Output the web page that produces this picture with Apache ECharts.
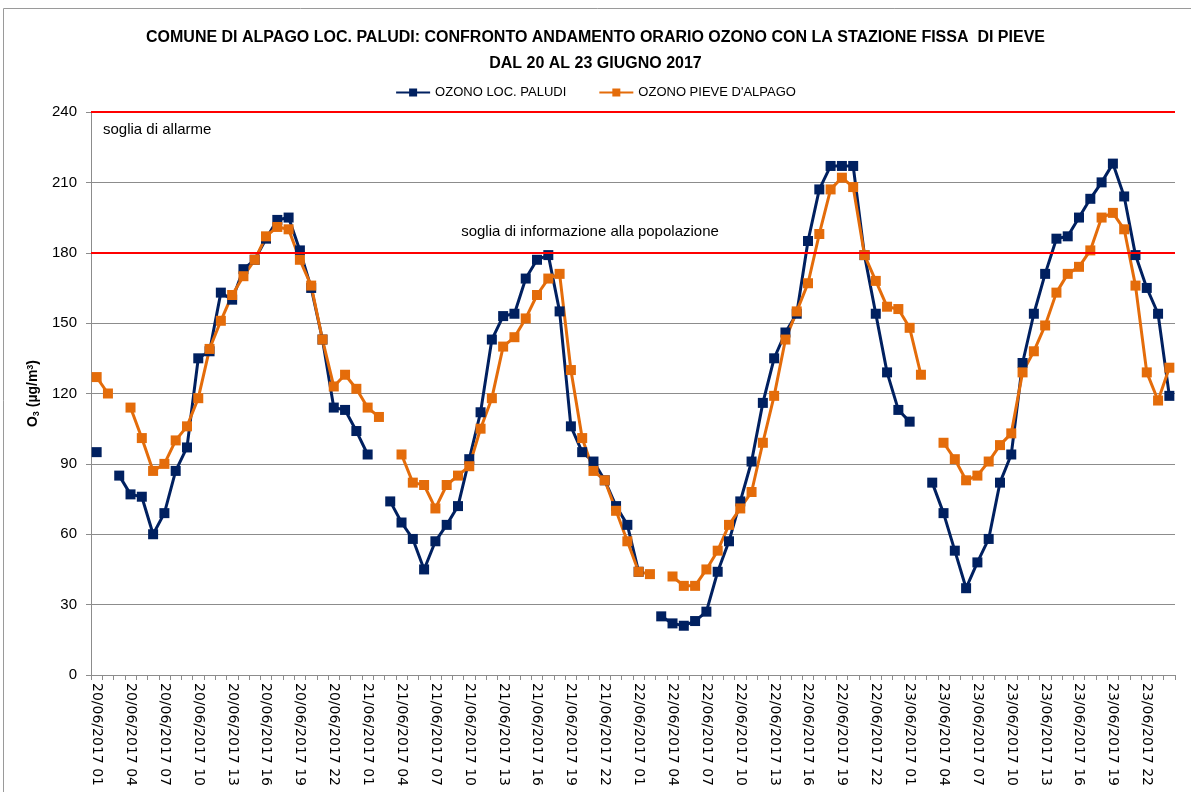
<!DOCTYPE html>
<html style="height: 100%;width: 100%;">
<head>
  <meta charset="UTF-8">
  <title>Ozono Alpago</title>
  <script src="https://cdn.jsdelivr.net/npm/echarts@6/dist/echarts.min.js"></script>
</head>
<body style="margin: 0;height: 100%;width: 100%;background: #fff;">
  <div id="ozone_chart" style="width: 1191px;height: 792px;"></div>
<script>
// giorni e ore (etichette asse x)
var days = ["20/06/2017", "21/06/2017", "22/06/2017", "23/06/2017"];
var hours = ["01","02","03","04","05","06","07","08","09","10","11","12",
             "13","14","15","16","17","18","19","20","21","22","23","24"];

// ozono loc. Paludi (ug/m3), null = dato mancante
var paludi = [
  95, null, 85, 77, 76, 60, 69, 87, 97, 135, 138, 163,
  160, 173, 177, 186, 194, 195, 181, 165, 143, 114, 113, 104,
  94, null, 74, 65, 58, 45, 57, 64, 72, 92, 112, 143,
  153, 154, 169, 177, 179, 155, 106, 95, 91, 83, 72, 64,
  44, null, 25, 22, 21, 23, 27, 44, 57, 74, 91, 116,
  135, 146, 154, 185, 207, 217, 217, 217, 179, 154, 129, 113,
  108, null, 82, 69, 53, 37, 48, 58, 82, 94, 133, 154,
  171, 186, 187, 195, 203, 210, 218, 204, 179, 165, 154, 119
];

// ozono stazione fissa Pieve d'Alpago
var pieve = [
  127, 120, null, 114, 101, 87, 90, 100, 106, 118, 139, 151,
  162, 170, 177, 187, 191, 190, 177, 166, 143, 123, 128, 122,
  114, 110, null, 94, 82, 81, 71, 81, 85, 89, 105, 118,
  140, 144, 152, 162, 169, 171, 130, 101, 87, 83, 70, 57,
  44, 43, null, 42, 38, 38, 45, 53, 64, 71, 78, 99,
  119, 143, 155, 167, 188, 207, 212, 208, 179, 168, 157, 156,
  148, 128, null, 99, 92, 83, 85, 91, 98, 103, 129, 138,
  149, 163, 171, 174, 181, 195, 197, 190, 166, 129, 117, 131
];

// soglie
var soglia_info = 180;
var soglia_allarme = 240;

var categories = [];
for (var d = 0; d < days.length; ++d) {
    for (var h = 0; h < hours.length; ++h) {
        categories.push(days[d] + " " + hours[h]);
    }
}

var chart = echarts.init(document.getElementById("ozone_chart"));
var option = {
    animation: false,
    backgroundColor: "#ffffff",
    graphic: [{
        type: "rect",
        shape: { x: 3.5, y: 8.5, width: 1200, height: 800 },
        style: { fill: "none", stroke: "#9a9a9a", lineWidth: 1 },
        silent: true
    }],
    title: {
        text: "COMUNE DI ALPAGO LOC. PALUDI: CONFRONTO ANDAMENTO ORARIO OZONO CON LA STAZIONE FISSA  DI PIEVE\nDAL 20 AL 23 GIUGNO 2017",
        left: "center",
        top: 20,
        textStyle: {
            fontFamily: "Liberation Sans, sans-serif",
            fontSize: 16,
            fontWeight: "bold",
            color: "#000",
            lineHeight: 26
        }
    },
    legend: {
        top: 81,
        left: "center",
        itemWidth: 34,
        itemHeight: 10,
        itemGap: 32,
        textStyle: {
            fontFamily: "Liberation Sans, sans-serif",
            fontSize: 13,
            color: "#000"
        },
        data: ["OZONO LOC. PALUDI", "OZONO PIEVE D'ALPAGO"]
    },
    grid: { left: 91, right: 16, top: 112, bottom: 117, containLabel: false },
    xAxis: {
        type: "category",
        data: categories,
        boundaryGap: true,
        axisLine: { lineStyle: { color: "#8c8c8c", width: 1 } },
        axisTick: { show: true, interval: 0, length: 5, lineStyle: { color: "#8c8c8c" } },
        axisLabel: {
            interval: 2,
            rotate: -90,
            margin: 8,
            fontFamily: "DejaVu Sans, sans-serif",
            fontSize: 14,
            color: "#000"
        },
        splitLine: { show: false }
    },
    yAxis: {
        type: "value",
        min: 0,
        max: 240,
        interval: 30,
        name: "{b|O}{sub|3}{b| (µg/m}{sup|3}{b|)}",
        nameLocation: "middle",
        nameRotate: 90,
        nameGap: 44,
        nameTextStyle: {
            rich: {
                b: { fontFamily: "Liberation Sans, sans-serif", fontSize: 14, fontWeight: "bold", color: "#000" },
                sub: { fontFamily: "Liberation Sans, sans-serif", fontSize: 9, fontWeight: "bold", color: "#000", verticalAlign: "bottom", padding: [6, 0, 0, 0] },
                sup: { fontFamily: "Liberation Sans, sans-serif", fontSize: 9, fontWeight: "bold", color: "#000", verticalAlign: "top", padding: [0, 0, 6, 0] }
            }
        },
        axisLine: { show: true, lineStyle: { color: "#8c8c8c", width: 1 } },
        axisTick: { show: true, length: 5, lineStyle: { color: "#8c8c8c" } },
        axisLabel: {
            margin: 14,
            fontFamily: "Liberation Sans, sans-serif",
            fontSize: 15,
            color: "#000"
        },
        splitLine: { show: true, lineStyle: { color: "#8c8c8c", width: 1 } }
    },
    series: [{
        name: "OZONO LOC. PALUDI",
        type: "line",
        data: paludi,
        connectNulls: false,
        showAllSymbol: true,
        symbol: "rect",
        symbolSize: 10,
        color: "#002060",
        lineStyle: { color: "#002060", width: 3 },
        itemStyle: { color: "#002060" },
        markLine: {
            silent: true,
            symbol: ["none", "none"],
            lineStyle: { color: "#ff0000", width: 2, type: "solid" },
            label: {
                fontFamily: "Liberation Sans, sans-serif",
                fontSize: 15,
                color: "#000"
            },
            data: [
                {
                    yAxis: soglia_allarme,
                    label: { formatter: "soglia di allarme", position: "insideStartBottom", distance: [12, 10] }
                },
                {
                    yAxis: soglia_info,
                    label: { formatter: "soglia di informazione alla popolazione", position: "insideMiddleTop", distance: 13, padding: [0, 86, 0, 0] }
                }
            ]
        }
    }, {
        name: "OZONO PIEVE D'ALPAGO",
        type: "line",
        data: pieve,
        connectNulls: false,
        showAllSymbol: true,
        symbol: "rect",
        symbolSize: 10,
        color: "#e46c0a",
        lineStyle: { color: "#e46c0a", width: 3 },
        itemStyle: { color: "#e46c0a" }
    }]
};
chart.setOption(option);
</script>
</body>
</html>
